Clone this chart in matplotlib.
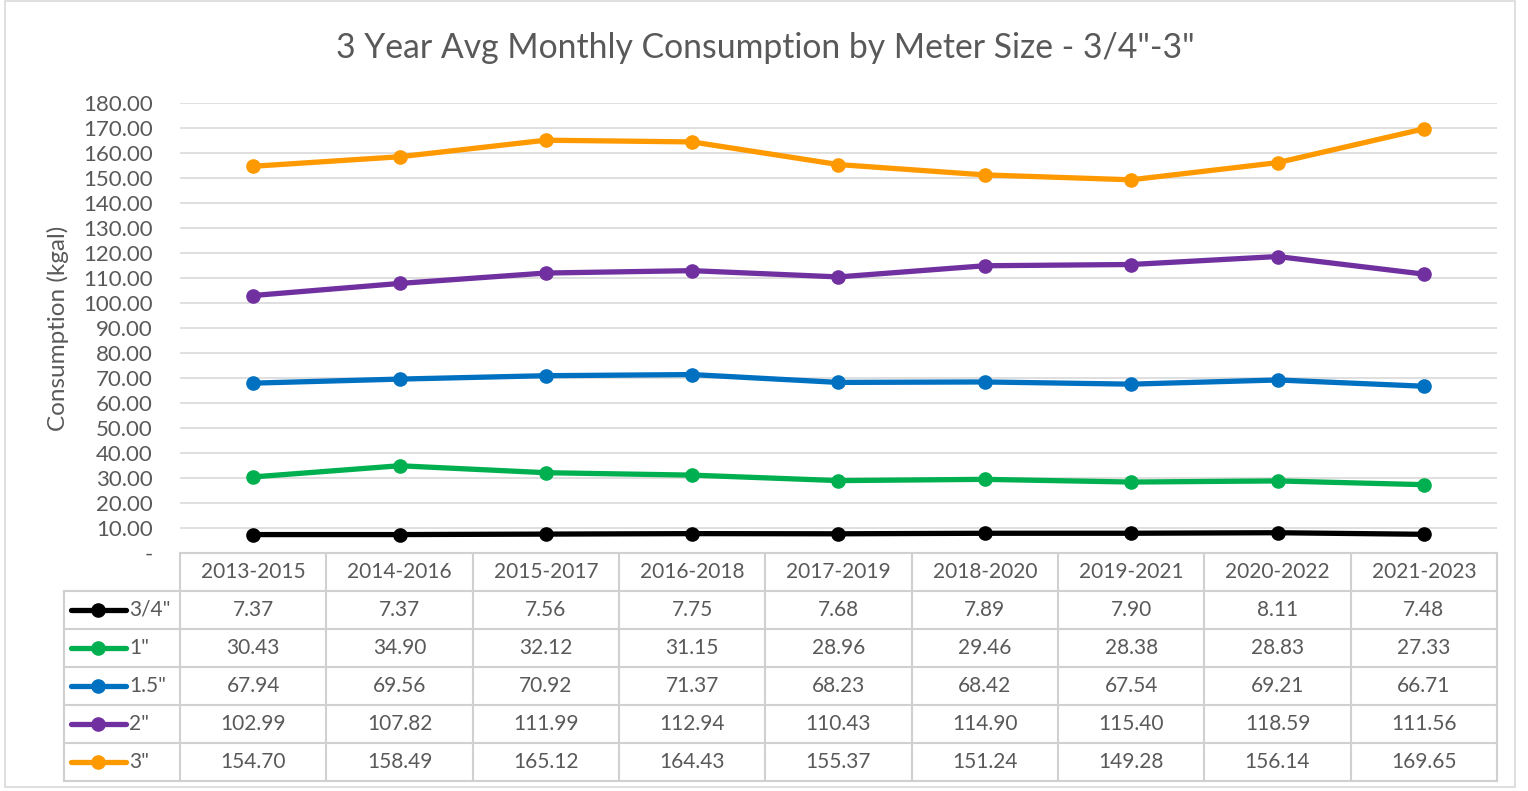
import matplotlib.pyplot as plt
from matplotlib.lines import Line2D
from matplotlib.patches import Rectangle

periods = ["2013-2015", "2014-2016", "2015-2017", "2016-2018", "2017-2019",
           "2018-2020", "2019-2021", "2020-2022", "2021-2023"]
sizes = ['3/4"', '1"', '1.5"', '2"', '3"']
colors = ["#000000", "#00B050", "#0070C0", "#7030A0", "#FF9900"]

cons_34 = [7.37, 7.37, 7.56, 7.75, 7.68, 7.89, 7.90, 8.11, 7.48]
cons_1 = [30.43, 34.90, 32.12, 31.15, 28.96, 29.46, 28.38, 28.83, 27.33]
cons_15 = [67.94, 69.56, 70.92, 71.37, 68.23, 68.42, 67.54, 69.21, 66.71]
cons_2 = [102.99, 107.82, 111.99, 112.94, 110.43, 114.90, 115.40, 118.59, 111.56]
cons_3 = [154.70, 158.49, 165.12, 164.43, 155.37, 151.24, 149.28, 156.14, 169.65]
series = [cons_34, cons_1, cons_15, cons_2, cons_3]

plt.rcParams['font.family'] = ['Lato', 'DejaVu Sans']
txt = "#595959"
grid = "#D9D9D9"

W, H = 1528, 791
fig = plt.figure(figsize=(W / 100, H / 100), dpi=100)

# outer chart border
fig.add_artist(Rectangle((5 / W, 1 - 787 / H), 1510 / W, 786 / H, transform=fig.transFigure,
                         fill=False, edgecolor=grid, lw=1.2))

x0, x1 = 180, 1497
ytop, ybot = 103, 553
ax = fig.add_axes([x0 / W, 1 - ybot / H, (x1 - x0) / W, (ybot - ytop) / H])
n = len(periods)
for vals, c in zip(series, colors):
    ax.plot(range(n), vals, color=c, lw=3.8, marker="o", ms=9.5, solid_capstyle="round")
ax.set_xlim(-0.5, n - 0.5)
ax.set_ylim(0, 180)
ax.set_yticks(range(0, 181, 10))
ax.set_yticklabels(["-"] + [f"{v:.2f}" for v in range(10, 181, 10)])
ax.set_xticks([])
ax.grid(axis="y", color=grid, lw=1.2)
ax.set_axisbelow(True)
for s in ax.spines.values():
    s.set_visible(False)
ax.tick_params(axis="y", length=0, labelsize=16, labelcolor=txt, pad=19.5)
ax.set_ylabel("Consumption (kgal)", fontsize=17.5, color=txt)
ax.yaxis.set_label_coords((69 - x0) / (x1 - x0), (ybot - 328) / (ybot - ytop))

fig.text(765 / W, 1 - 48 / H, '3 Year Avg Monthly Consumption by Meter Size - 3/4"-3"',
         ha="center", va="center", fontsize=24.3, color=txt)

# data table
row_h = 38
col_w = (x1 - x0) / n
leg_x = 64
tab_top = ybot
nrows = len(sizes) + 1
tab_bot = tab_top + row_h * nrows


def fx(px):
    return px / W


def fy(py):
    return 1 - py / H


lc = "#D0D0D0"
fs = 15
# horizontal lines
fig.add_artist(Line2D([fx(x0), fx(x1)], [fy(tab_top), fy(tab_top)], color=lc, lw=1.5))
for r in range(1, nrows + 1):
    y = tab_top + r * row_h
    fig.add_artist(Line2D([fx(leg_x), fx(x1)], [fy(y), fy(y)], color=lc, lw=1.5))
# vertical lines
fig.add_artist(Line2D([fx(leg_x), fx(leg_x)], [fy(tab_top + row_h), fy(tab_bot)], color=lc, lw=1.5))
for c in range(n + 1):
    x = x0 + c * col_w
    fig.add_artist(Line2D([fx(x), fx(x)], [fy(tab_top), fy(tab_bot)], color=lc, lw=1.5))

for c, p in enumerate(periods):
    fig.text(fx(x0 + (c + 0.5) * col_w), fy(tab_top + row_h / 2), p,
             ha="center", va="center", fontsize=fs, color=txt)

for r, (name, vals, col) in enumerate(zip(sizes, series, colors)):
    yc = tab_top + (r + 1.5) * row_h
    fig.add_artist(Line2D([fx(71), fx(126)], [fy(yc), fy(yc)], color=col, lw=3.8,
                          solid_capstyle="round"))
    fig.add_artist(Line2D([fx(98)], [fy(yc)], color=col, marker="o", ms=9.5))
    fig.text(fx(129), fy(yc), name, ha="left", va="center", fontsize=fs, color=txt)
    for c, v in enumerate(vals):
        fig.text(fx(x0 + (c + 0.5) * col_w), fy(yc), f"{v:.2f}",
                 ha="center", va="center", fontsize=fs, color=txt)

fig.savefig("out.png", dpi=100, facecolor="white")
